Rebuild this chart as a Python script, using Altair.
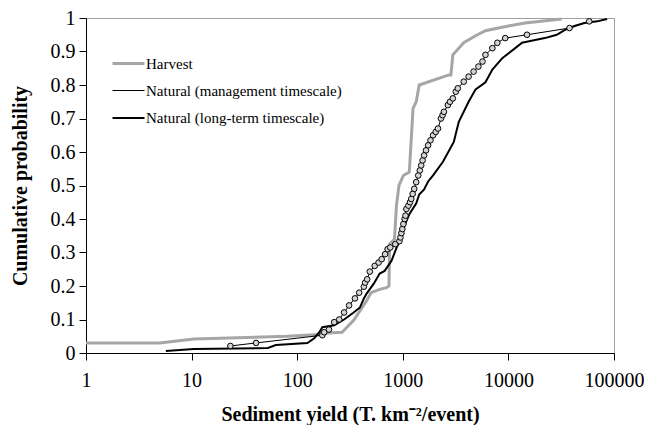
import altair as alt
import pandas as pd

SERIES = ["Harvest", "Natural (management timescale)", "Natural (long-term timescale)"]
COLORS = ["#a6a6a6", "black", "black"]
WIDTHS = [3, 1, 2]

harvest_x = [1, 5, 10.5, 80, 160, 200, 266, 344, 456, 500, 604, 700, 740, 750, 834, 871, 920,
             1013, 1153, 1250, 1341, 1430, 2730, 2852, 2978, 3776, 4890, 6060, 9960, 14350, 31900]
harvest_y = [0.03, 0.03, 0.042, 0.05, 0.055, 0.06, 0.062, 0.098, 0.157, 0.18, 0.19, 0.195, 0.20,
             0.325, 0.34, 0.44, 0.50, 0.53, 0.54, 0.73, 0.75, 0.80, 0.83, 0.83, 0.89, 0.926, 0.947,
             0.962, 0.976, 0.985, 0.997]

mgmt_x = [23.3, 40.8, 173, 180, 200, 224, 250, 278, 310, 352, 386, 428, 440, 460, 487, 542, 590,
          631, 680, 718, 760, 850, 929, 950, 970, 990, 1013, 1040, 1060, 1081, 1130, 1170, 1203,
          1240, 1284, 1340, 1400, 1450, 1493, 1540, 1592, 1660, 1737, 1830, 1935, 2050, 2155,
          2297, 2380, 2452, 2673, 2800, 2978, 3176, 3317, 3776, 4200, 4682, 5200, 5685, 6064,
          7050, 7855, 9330, 15000, 37900, 58300]
mgmt_y = [0.021, 0.03, 0.053, 0.062, 0.07, 0.092, 0.10, 0.121, 0.142, 0.163, 0.18, 0.198, 0.21,
          0.22, 0.243, 0.26, 0.27, 0.28, 0.295, 0.31, 0.315, 0.325, 0.334, 0.345, 0.358, 0.37,
          0.385, 0.40, 0.41, 0.43, 0.44, 0.45, 0.46, 0.475, 0.49, 0.51, 0.53, 0.545, 0.56, 0.575,
          0.59, 0.605, 0.62, 0.635, 0.65, 0.66, 0.67, 0.70, 0.71, 0.72, 0.74, 0.75, 0.76, 0.78,
          0.79, 0.81, 0.825, 0.84, 0.855, 0.87, 0.89, 0.91, 0.926, 0.94, 0.95, 0.97, 0.99]

long_x = [5.7, 10.5, 52.8, 62.8, 125, 145, 162, 173, 224, 278, 340, 393, 428, 456, 531, 604, 673,
          782, 871, 970, 1035, 1153, 1341, 1430, 1592, 1737, 1935, 2400, 3040, 3390, 4200, 4890,
          6064, 7050, 8750, 11600, 13470, 15300, 22100, 28700, 34000, 42200, 52400, 69300, 86000]
long_y = [0.006, 0.012, 0.015, 0.024, 0.03, 0.044, 0.062, 0.077, 0.083, 0.10, 0.12, 0.136, 0.163,
          0.178, 0.207, 0.237, 0.245, 0.275, 0.314, 0.343, 0.38, 0.414, 0.447, 0.473, 0.488,
          0.512, 0.53, 0.571, 0.63, 0.69, 0.75, 0.787, 0.808, 0.846, 0.88, 0.91, 0.926, 0.93,
          0.94, 0.95, 0.964, 0.976, 0.985, 0.99, 0.997]

x_ticks = [1, 10, 100, 1000, 10000, 100000]
y_ticks = [0, 0.1, 0.2, 0.3, 0.4, 0.5, 0.6, 0.7, 0.8, 0.9, 1]

# key = "<index>|<name>" so alphabetical order equals legend order; label strips the prefix
KEYS = [f"{i}|{s}" for i, s in enumerate(SERIES)]

rows = []
for key, name, xs, ys in zip(KEYS, SERIES, [harvest_x, mgmt_x, long_x], [harvest_y, mgmt_y, long_y]):
    for i, (xv, yv) in enumerate(zip(xs, ys)):
        rows.append({"key": key, "series": name, "x": xv, "y": yv, "order": i})
df = pd.DataFrame(rows)

FONT = "Liberation Serif"

xenc = alt.X("x:Q", scale=alt.Scale(type="log", domain=[1, 100000]),
             axis=alt.Axis(values=x_ticks, format="d", grid=False, labelFlush=False,
                           labelOverlap=False, tickSize=7, labelPadding=10,
                           title="Sediment yield (T. km⁻²/event)", titlePadding=14))
yenc = alt.Y("y:Q", scale=alt.Scale(domain=[0, 1]),
             axis=alt.Axis(values=y_ticks, format=".1~f", grid=False, labelFlush=False,
                           labelOverlap=False, tickSize=7, labelPadding=4,
                           title="Cumulative probability", titlePadding=20))

legend_kw = dict(orient="none", legendX=25, legendY=28, title=None,
                 symbolType="stroke", symbolSize=1024, labelLimit=400,
                 labelFont=FONT, labelFontSize=15, labelColor="black",
                 labelOffset=0, rowPadding=2,
                 labelExpr="slice(datum.label, indexof(datum.label, '|') + 1)")

lines = alt.Chart(df).mark_line(interpolate="linear").encode(
    x=xenc, y=yenc,
    color=alt.Color("key:N", scale=alt.Scale(domain=KEYS, range=COLORS),
                    legend=alt.Legend(**legend_kw)),
    strokeWidth=alt.StrokeWidth("key:N",
                                scale=alt.Scale(type="ordinal", domain=KEYS, range=WIDTHS),
                                legend=alt.Legend(**legend_kw)),
    order="order:Q",
)

points = alt.Chart(df).transform_filter(
    alt.datum.series == SERIES[1]
).mark_point(shape="circle", filled=True, fill="#d4d4d4", stroke="black",
             strokeWidth=1, size=32, opacity=1).encode(x=xenc, y=yenc)

chart = alt.layer(lines, points).properties(
    width=528, height=335,
    autosize=alt.AutoSizeParams(type="none"),
    padding={"left": 78, "top": 10, "right": 30, "bottom": 72},
).configure_view(stroke="#a0a0a0", strokeWidth=1).configure_axis(
    labelFont=FONT, labelFontSize=20, labelColor="black",
    titleFont=FONT, titleFontSize=20, titleFontWeight="bold", titleColor="black",
    domainColor="black", tickColor="black", domainWidth=1, tickWidth=1,
)

chart.save("out.html", embed_options={"renderer": "svg", "actions": False})
